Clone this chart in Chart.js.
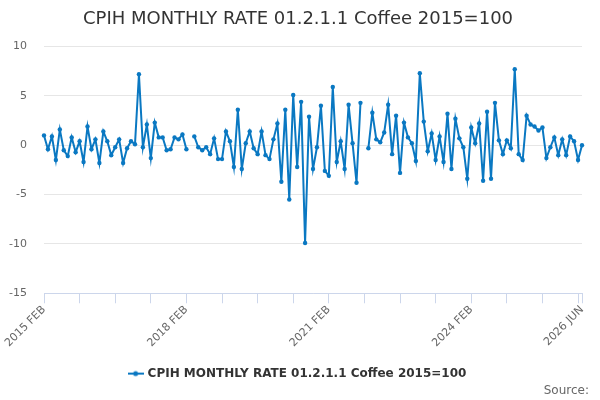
<!DOCTYPE html>
<html>
<head>
    <title>CPIH MONTHLY RATE 01.2.1.1 Coffee 2015=100</title>
    <script src="https://cdn.jsdelivr.net/npm/chart.js"></script>
    <style>
        html, body { margin: 0; padding: 0; background: #fff; }
        #wrap { width: 600px; height: 400px; }
    </style>
</head>
<body>
    <div id="wrap"><canvas id="chart"></canvas></div>

    <script>
        // series name and monthly values, 2015 FEB .. 2026 JUN (null = no figure)
        var seriesName = "CPIH MONTHLY RATE 01.2.1.1 Coffee 2015=100";
        var values = [
            1.0, -0.4, 0.9, -1.5, 1.6, -0.5, -1.1, 0.8, -0.7, 0.4, -1.7, 1.9,
            -0.4, 0.6, -1.8, 1.4, 0.4, -1.0, -0.2, 0.6, -1.8, -0.3, 0.4, 0.1,
            7.2, -0.2, 2.1, -1.3, 2.3, 0.8, 0.8, -0.5, -0.4, 0.8, 0.6, 1.1,
            -0.4, null, 0.9, -0.2, -0.5, -0.2, -0.9, 0.7, -1.4, -1.4, 1.4, 0.4,
            -2.2, 3.6, -2.4, 0.2, 1.4, -0.3, -0.9, 1.4, -1.0, -1.4, 0.6, 2.2,
            -3.7, 3.6, -5.5, 5.1, -2.2, 4.4, -9.9, 2.9, -2.4, -0.2, 4.0, -2.6,
            -3.1, 5.9, -1.7, 0.4, -2.4, 4.1, 0.2, -3.8, 4.3, null, -0.3, 3.3,
            0.6, 0.3, 1.3, 4.1, -0.9, 3.0, -2.8, 2.3, 0.8, 0.2, -1.6, 7.3,
            2.4, -0.6, 1.2, -1.5, 0.9, -1.7, 3.2, -2.4, 2.7, 0.7, -0.2, -3.4,
            1.8, 0.2, 2.2, -3.6, 3.4, -3.4, 4.3, 0.5, -0.9, 0.5, -0.3, 7.7,
            -0.9, -1.5, 3.0, 2.1, 1.9, 1.5, 1.8, -1.3, -0.2, 0.8, -1.0, 0.6,
            -1.0, 0.9, 0.4, -1.5, 0.0
        ];

        // x categories: one per month from 2015 FEB
        var monthNames = ["JAN", "FEB", "MAR", "APR", "MAY", "JUN", "JUL", "AUG", "SEP", "OCT", "NOV", "DEC"];
        var startYear = 2015;
        var startMonth = 1;
        var labels = [];
        for (var i = 0; i < values.length; i++) {
            var m = startMonth + i;
            labels.push((startYear + Math.floor(m / 12)) + " " + monthNames[m % 12]);
        }

        // labels written under the axis, y axis ticks
        var shownTicks = ["2015 FEB", "2018 FEB", "2021 FEB", "2024 FEB", "2026 JUN"];
        var yTicks = [-15, -10, -5, 0, 5, 10];

        var lineColor = "#0a78c2";
        var font = "'DejaVu Sans', sans-serif";

        // small line-with-dot symbol for the legend
        var sym = document.createElement("canvas");
        sym.width = 16;
        sym.height = 8;
        var sctx = sym.getContext("2d");
        sctx.strokeStyle = lineColor;
        sctx.lineWidth = 2;
        sctx.beginPath();
        sctx.moveTo(0, 4);
        sctx.lineTo(16, 4);
        sctx.stroke();
        sctx.fillStyle = lineColor;
        sctx.beginPath();
        sctx.arc(8, 4, 2.5, 0, Math.PI * 2);
        sctx.fill();

        var chartConfig = {
            type: "line",
            data: {
                labels: labels,
                datasets: [{
                    label: seriesName,
                    data: values,
                    borderColor: lineColor,
                    backgroundColor: lineColor,
                    borderWidth: 2,
                    pointRadius: 2.2,
                    pointBorderWidth: 0,
                    pointBackgroundColor: lineColor,
                    tension: 0,
                    spanGaps: false
                }]
            },
            options: {
                responsive: true,
                maintainAspectRatio: false,
                animation: false,
                layout: {
                    padding: { left: 7, right: 11, top: 0, bottom: 0 }
                },
                plugins: {
                    title: {
                        display: true,
                        text: seriesName,
                        color: "#333333",
                        font: { family: font, size: 18, weight: "normal" },
                        padding: { top: 9, bottom: 16 }
                    },
                    subtitle: {
                        display: true,
                        text: "Source:",
                        position: "bottom",
                        align: "end",
                        color: "#666666",
                        font: { family: font, size: 12, weight: "normal" },
                        padding: { top: -6, bottom: 2 }
                    },
                    legend: {
                        position: "bottom",
                        labels: {
                            color: "#333333",
                            font: { family: font, size: 12, weight: "bold" },
                            usePointStyle: true,
                            padding: 3,
                            generateLabels: function (chart) {
                                return [{
                                    text: seriesName,
                                    pointStyle: sym,
                                    fontColor: "#333333",
                                    strokeStyle: lineColor,
                                    fillStyle: lineColor,
                                    lineWidth: 0,
                                    datasetIndex: 0
                                }];
                            }
                        }
                    },
                    tooltip: { enabled: false }
                },
                scales: {
                    x: {
                        type: "category",
                        offset: false,
                        border: { display: true, color: "#ccd6eb", width: 1 },
                        grid: {
                            drawOnChartArea: false,
                            drawTicks: true,
                            tickLength: 10,
                            tickColor: function (ctx) {
                                return (ctx.index % 9 === 0 || ctx.index === labels.length - 1) ? "#ccd6eb" : "rgba(0,0,0,0)";
                            }
                        },
                        ticks: {
                            autoSkip: false,
                            minRotation: 45,
                            maxRotation: 45,
                            color: "#666666",
                            font: { family: font, size: 11 },
                            padding: 0,
                            callback: function (value, index) {
                                var l = labels[index];
                                return shownTicks.indexOf(l) >= 0 ? l : "";
                            }
                        },
                        afterFit: function (scale) {
                            // room under the labels before the legend
                            scale.paddingLeft = 0;
                            scale.paddingRight = 0;
                            scale.height += 15;
                        }
                    },
                    y: {
                        min: yTicks[0],
                        max: yTicks[yTicks.length - 1],
                        border: { display: false },
                        grid: {
                            color: "#e6e6e6",
                            drawTicks: false
                        },
                        ticks: {
                            stepSize: 5,
                            color: "#666666",
                            font: { family: font, size: 11 },
                            padding: 17
                        },
                        afterFit: function (scale) {
                            scale.width = 37;
                        }
                    },
                    yRight: {
                        type: "linear",
                        position: "right",
                        display: true,
                        border: { display: false },
                        grid: { display: false, drawTicks: false },
                        ticks: { display: false },
                        afterFit: function (scale) {
                            scale.width = 7;
                        }
                    }
                }
            }
        };

        var ctx = document.getElementById("chart").getContext("2d");
        var chart = new Chart(ctx, chartConfig);
    </script>
</body>
</html>
